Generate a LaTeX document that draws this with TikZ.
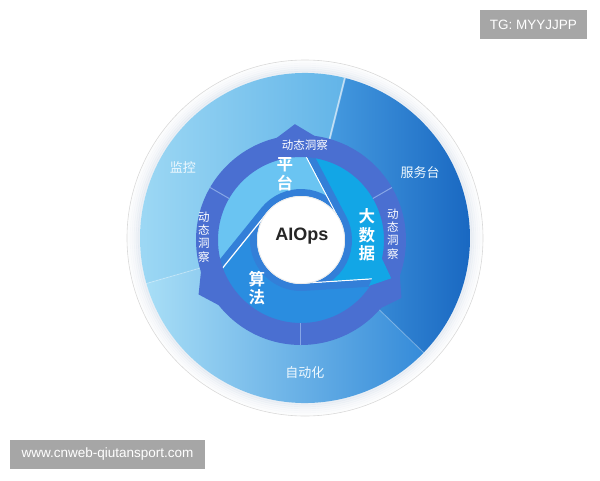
\documentclass[tikz,border=0pt]{standalone}
\usepackage{fontspec}
\newfontfamily\cjk{Noto Sans CJK SC}[BoldFont={Noto Sans CJK SC Bold}]
\newfontfamily\lat{Liberation Sans}
\definecolor{mon1}{HTML}{9DD8F4}
\definecolor{mon2}{HTML}{62B4E8}
\definecolor{aut1}{HTML}{A8DEF6}
\definecolor{aut2}{HTML}{358BD9}
\definecolor{srv1}{HTML}{4CA2E4}
\definecolor{srv2}{HTML}{1462BE}
\definecolor{ptc}{HTML}{6AC4F2}
\definecolor{bdc}{HTML}{12A6E6}
\definecolor{sfc}{HTML}{2A8DE0}
\definecolor{ringc}{HTML}{4A6FD1}
\definecolor{bandc}{HTML}{337FD8}
\definecolor{sepc}{HTML}{86A6E6}
\definecolor{shadowc}{HTML}{8FA8C8}
\definecolor{wmc}{HTML}{A6A6A6}
\definecolor{outl}{HTML}{F0F9FE}
\tikzset{
  wm/.style={fill=wmc, text=white, font=\lat\fontsize{13.5}{14}\selectfont, inner sep=0pt},
  outlab/.style={text=outl, font=\cjk\fontsize{13}{13}\selectfont},
  ringlab/.style={text=white, font=\cjk\fontsize{11.5}{13.2}\selectfont, align=center},
  inlab/.style={text=white, font=\cjk\bfseries\fontsize{16.5}{18.5}\selectfont, align=center},
  seclinemain/.style={draw=white, opacity=0.6, line width=1.8},
  secline/.style={draw=white, opacity=0.25, line width=1},
  ringsep/.style={draw=sepc, line width=1},
}
% vertices V1 (95:114), V2 (-23:98), V3 (208.6:115); centre circle r=44
% tangent points T1 27.7, T2 -86.3, T3 141.1
\def\RegP{(208.6:115) -- (141.1:44) arc[start angle=141.1, end angle=27.7, radius=44] -- (95:114) -- (95:200) -- (120:200) -- (150:200) -- (180:200) -- (208.6:200) -- cycle}
\def\RegB{(95:114) -- (27.7:44) arc[start angle=27.7, end angle=-86.3, radius=44] -- (-23:98) -- (-23:200) -- (0:200) -- (30:200) -- (60:200) -- (95:200) -- cycle}
\def\RegS{(-23:98) -- (-86.3:44) arc[start angle=-86.3, end angle=-218.9, radius=44] -- (208.6:115) -- (208.6:200) -- (240:200) -- (270:200) -- (300:200) -- (337:200) -- cycle}
\begin{document}
\begin{tikzpicture}[x=1pt,y=1pt]
\useasboundingbox (-301,-240) rectangle (299,240);
% watermarks
\node[wm, minimum width=107, minimum height=29] (tg) at (232.5,215.5) {TG: MYYJJPP};
\node[wm, minimum width=195, minimum height=29] (www) at (-193.5,-214.5) {www.cnweb-qiutansport.com};
% outer white band and sectors
\begin{scope}[shift={(4,2)}]
\fill[white] (0,0) circle (178);
\draw[black!15, line width=0.6] (0,0) circle (178);
\foreach \r/\o in {176/0.03,174/0.05,172/0.07,170/0.10,168/0.14,166/0.18}{
  \draw[line width=2.2, color=shadowc, opacity=\o] (0,0) circle (\r);}
\shade[left color=mon1, right color=mon2] (0,0) -- (76:165) arc[start angle=76, end angle=196, radius=165] -- cycle;
\shade[left color=aut1, right color=aut2] (0,0) -- (196:165) arc[start angle=196, end angle=316, radius=165] -- cycle;
\shade[left color=srv1, right color=srv2] (0,0) -- (316:165) arc[start angle=316, end angle=436, radius=165] -- cycle;
\coordinate (s1a) at (76:100); \coordinate (s1b) at (76:165);
\coordinate (s2a) at (196:100); \coordinate (s2b) at (196:165);
\coordinate (s3a) at (316:100); \coordinate (s3b) at (316:165);
\draw[seclinemain] (s1a) -- (s1b);
\draw[secline] (s2a) -- (s2b);
\draw[secline] (s3a) -- (s3b);
\end{scope}
% inner regions
\begin{scope}
  \clip (0,0) circle (84);
  \fill[ptc] \RegP;
  \fill[bdc] \RegB;
  \fill[sfc] \RegS;
  \begin{scope}
    \clip \RegP;
    \draw[bandc, line width=14] (27.7:44) arc[start angle=27.7, end angle=141.1, radius=44] -- (208.6:115);
    \draw[white, line width=2.4] (95:114) -- (27.7:44);
  \end{scope}
  \begin{scope}
    \clip \RegB;
    \draw[bandc, line width=14] (-86.3:44) arc[start angle=-86.3, end angle=27.7, radius=44] -- (95:114);
    \draw[white, line width=2.4] (-23:98) -- (-86.3:44);
  \end{scope}
  \begin{scope}
    \clip \RegS;
    \draw[bandc, line width=14] (141.1:44) arc[start angle=141.1, end angle=273.7, radius=44] -- (-23:98);
    \draw[white, line width=2.4] (208.6:115) -- (141.1:44);
  \end{scope}
\end{scope}
% ring
\fill[ringc, even odd rule] (0,0) circle (105) (0,0) circle (83);
\foreach \a in {93,-30,208}{
  \fill[ringc] (\a:116) -- (\a-13:103) -- (\a+13:103) -- cycle;}
\draw[ringsep] (30:83) -- (30:105);
\draw[ringsep] (150:83) -- (150:105);
\draw[ringsep] (270:83) -- (270:105);
% cyan arrow tip entering the ring
\fill[bdc] (-23:98) -- (-12:82) -- (-34:82) -- cycle;
% centre
\fill[white] (0,0) circle (44);
\draw[black!8, line width=0.8] (0,0) circle (43.6);
\node[font=\lat\bfseries\fontsize{18}{18}\selectfont, text=black!85] (aiops) at (1,4) {AIOps};
% labels
\node[inlab] (pt) at (-16,66) {平\\台};
\node[inlab] (bd) at (66,5) {大\\数\\据};
\node[inlab] (sf) at (-44,-48) {算\\法};
\node[ringlab] (r1) at (4,95) {动态洞察};
\node[ringlab] (r2) at (92,6) {动\\态\\洞\\察};
\node[ringlab] (r3) at (-97,3) {动\\态\\洞\\察};
\node[outlab] (jk) at (-118,73) {监控};
\node[outlab] (fw) at (119,67) {服务台};
\node[outlab] (zd) at (4,-133) {自动化};
\end{tikzpicture}
\end{document}
